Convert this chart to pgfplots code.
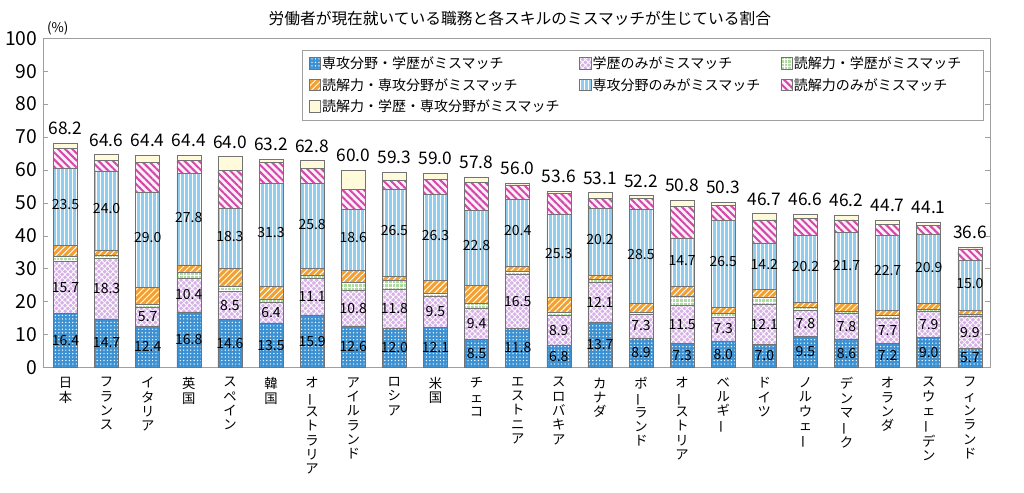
\documentclass[border=0pt]{standalone}
\usepackage{fontspec}
\setmainfont{Noto Sans CJK JP}
\usepackage{graphicx}
\usepackage{pgfplots}
\pgfplotsset{compat=1.18}
\usepackage{pgfplotstable}
\usetikzlibrary{patterns.meta}

\definecolor{cA}{RGB}{60,145,210}
\definecolor{cB}{RGB}{214,178,230}
\definecolor{cC}{RGB}{175,218,160}
\definecolor{cD}{RGB}{242,160,50}
\definecolor{cE}{RGB}{145,205,238}
\definecolor{cF}{RGB}{212,70,170}
\definecolor{cG}{RGB}{255,250,218}
\definecolor{edge}{RGB}{115,115,115}

\newcommand{\vbar}{\rotatebox[origin=c]{90}{ー}}
\newcommand{\lgf}{\fontsize{10.5}{10.5}\selectfont}

\pgfplotstableread{
x s1 s2 s3 s4 s5 s6 s7 t
0 16.4 15.7 1.6 3.4 23.5 6.0 1.6 68.2
1 14.7 18.3 1.0 1.7 24.0 3.2 1.7 64.6
2 12.4 5.7 1.0 5.2 29.0 9.0 2.1 64.4
3 16.8 10.4 1.8 2.1 27.8 3.9 1.6 64.4
4 14.6 8.5 1.5 5.5 18.3 11.4 4.2 64.0
5 13.5 6.4 0.9 3.8 31.3 6.3 1.0 63.2
6 15.9 11.1 1.0 2.0 25.8 4.6 2.4 62.8
7 12.6 10.8 2.4 3.6 18.6 6.0 6.0 60.0
8 12.0 11.8 2.5 1.4 26.5 2.7 2.4 59.3
9 12.1 9.5 1.0 3.7 26.3 4.6 1.8 59.0
10 8.5 9.4 1.6 5.5 22.8 8.5 1.5 57.8
11 11.8 16.5 1.0 1.4 20.4 4.3 0.6 56.0
12 6.8 8.9 1.0 4.6 25.3 6.3 0.7 53.6
13 13.7 12.1 0.9 1.4 20.2 3.0 1.8 53.1
14 8.9 7.3 0.5 2.8 28.5 3.4 0.8 52.2
15 7.3 11.5 2.8 3.0 14.7 9.7 1.8 50.8
16 8.0 7.3 1.0 1.9 26.5 4.5 1.1 50.3
17 7.0 12.1 2.3 2.2 14.2 7.0 1.9 46.7
18 9.5 7.8 0.8 1.7 20.2 5.2 1.4 46.6
19 8.6 7.8 0.6 2.4 21.7 3.7 1.4 46.2
20 7.2 7.7 0.8 1.7 22.7 3.4 1.2 44.7
21 9.0 7.9 0.8 1.7 20.9 2.9 0.9 44.1
22 5.7 9.9 0.4 1.4 15.0 3.6 0.6 36.6
}\data

\pgfplotsset{
  sw/.style={legend image code/.code={\draw[##1,draw=edge,line width=0.4pt] (0pt,-4pt) rectangle (8.5pt,4.5pt);}},
  segA/.style={fill=cA, draw=edge, line width=0.4pt, postaction={pattern={Dots[radius=0.55pt,distance=2.6pt]}, pattern color=white}},
  segB/.style={fill=cB, draw=edge, line width=0.4pt, postaction={pattern={Hatch[angle=45,distance=3pt,line width=0.6pt]}, pattern color=white}},
  segC/.style={fill=cC, draw=edge, line width=0.4pt, postaction={pattern={Hatch[angle=0,distance=2.8pt,line width=0.5pt]}, pattern color=white}},
  segD/.style={fill=cD, draw=edge, line width=0.4pt, postaction={pattern={Lines[angle=45,distance=3.2pt,line width=0.7pt]}, pattern color=white}},
  segE/.style={fill=cE, draw=edge, line width=0.4pt, postaction={pattern={Lines[angle=90,distance=3pt,line width=0.75pt]}, pattern color=white}},
  segF/.style={fill=cF!8, draw=edge, line width=0.4pt, postaction={pattern={Lines[angle=-45,distance=3.8pt,line width=1.5pt]}, pattern color=cF}},
  segG/.style={fill=cG, draw=edge, line width=0.4pt},
  lbl/.style={only marks, mark=*, mark size=0pt, mark options={draw=none,fill=none}},
}

\begin{document}
\begin{tikzpicture}
\begin{axis}[
  name=main,
  scale only axis,
  width=710.25pt, height=246.75pt,
  ybar stacked, bar width=18pt,
  xmin=-0.547, xmax=22.49, ymin=0, ymax=100,
  ytick={0,10,...,100},
  xtick={0,...,22},
  xticklabels={{日\\本},{フ\\ラ\\ン\\ス},{イ\\タ\\リ\\ア},{英\\国},{ス\\ペ\\イ\\ン},{韓\\国},{オ\\\vbar\\ス\\ト\\ラ\\リ\\ア},{ア\\イ\\ル\\ラ\\ン\\ド},{ロ\\シ\\ア},{米\\国},{チ\\ェ\\コ},{エ\\ス\\ト\\ニ\\ア},{ス\\ロ\\バ\\キ\\ア},{カ\\ナ\\ダ},{ポ\\\vbar\\ラ\\ン\\ド},{オ\\\vbar\\ス\\ト\\リ\\ア},{ベ\\ル\\ギ\\\vbar},{ド\\イ\\ツ},{ノ\\ル\\ウ\\ェ\\\vbar},{デ\\ン\\マ\\\vbar\\ク},{オ\\ラ\\ン\\ダ},{ス\\ウ\\ェ\\\vbar\\デ\\ン},{フ\\ィ\\ン\\ラ\\ン\\ド}},
  xticklabel style={align=center, anchor=north, inner sep=0pt, yshift=-7.5pt, font=\fontsize{10}{10.7}\selectfont},
  /pgf/number format/assume math mode=true,
  yticklabel style={font=\fontsize{14.5}{14.5}\selectfont, inner sep=0pt, xshift=-4pt},
  axis line style={draw=gray!75},
  tick align=inside, major tick length=4pt,
  ytick style={draw=gray!75},
  xtick style={draw=none},
  legend columns=3,
  legend cell align=left,
  legend style={at={(rel axis cs:0.2735,0.9644)}, anchor=north west, draw=gray!75,
    row sep=3.8pt, inner xsep=5pt, inner ysep=3.8pt,
    nodes={inner sep=1pt}},
  clip=false,
]
\addplot[segA, sw] table[x=x,y=s1]{\data};
\addlegendentry{\lgf\makebox[192pt][l]{専攻分野・学歴がミスマッチ}}
\addplot[segB, sw] table[x=x,y=s2]{\data};
\addlegendentry{\lgf\makebox[140pt][l]{学歴のみがミスマッチ}}
\addplot[segC, sw] table[x=x,y=s3]{\data};
\addlegendentry{\lgf\makebox[136pt][l]{読解力・学歴がミスマッチ}}
\addplot[segD, sw] table[x=x,y=s4]{\data};
\addlegendentry{\lgf\makebox[192pt][l]{読解力・専攻分野がミスマッチ}}
\addplot[segE, sw] table[x=x,y=s5]{\data};
\addlegendentry{\lgf\makebox[140pt][l]{専攻分野のみがミスマッチ}}
\addplot[segF, sw] table[x=x,y=s6]{\data};
\addlegendentry{\lgf\makebox[136pt][l]{読解力のみがミスマッチ}}
\addplot[segG, sw] table[x=x,y=s7]{\data};
\addlegendentry{\lgf\makebox[192pt][l]{読解力・学歴・専攻分野がミスマッチ}}
\end{axis}

\begin{axis}[
  at={(main.south west)}, anchor=south west,
  scale only axis,
  width=710.25pt, height=246.75pt,
  xmin=-0.547, xmax=22.49, ymin=0, ymax=100,
  hide axis, clip=false,
  /pgf/number format/assume math mode=true,
  point meta=explicit,
  nodes near coords={\pgfmathprintnumber[fixed,fixed zerofill,precision=1,assume math mode=true]{\pgfplotspointmeta}},
  nodes near coords style={anchor=center, text=black, inner sep=0.5pt, font=\fontsize{10.5}{10.5}\selectfont},
]
\addplot[lbl] table[x=x, y expr=\thisrow{s1}/2, meta=s1]{\data};
\addplot[lbl] table[x=x, y expr=\thisrow{s1}+\thisrow{s2}/2, meta=s2]{\data};
\addplot[lbl] table[x=x, y expr=\thisrow{s1}+\thisrow{s2}+\thisrow{s3}+\thisrow{s4}+\thisrow{s5}/2+0.6, meta=s5]{\data};
\addplot[lbl, nodes near coords style={anchor=south, yshift=5.5pt, font=\fontsize{13}{13}\selectfont}] table[x=x, y=t, meta=t]{\data};
\end{axis}

\node[font=\fontsize{11.8}{11.8}\selectfont] at ([xshift=2.5pt,yshift=15pt]main.north) {労働者が現在就いている職務と各スキルのミスマッチが生じている割合};
\node[font=\fontsize{10}{10}\selectfont] at ([xshift=11pt,yshift=7.5pt]main.north west) {(\%)};
\path ([xshift=-32.25pt,yshift=28.7pt]main.north west) rectangle ([xshift=25.5pt,yshift=-93.75pt]main.south east);
\end{tikzpicture}
\end{document}
